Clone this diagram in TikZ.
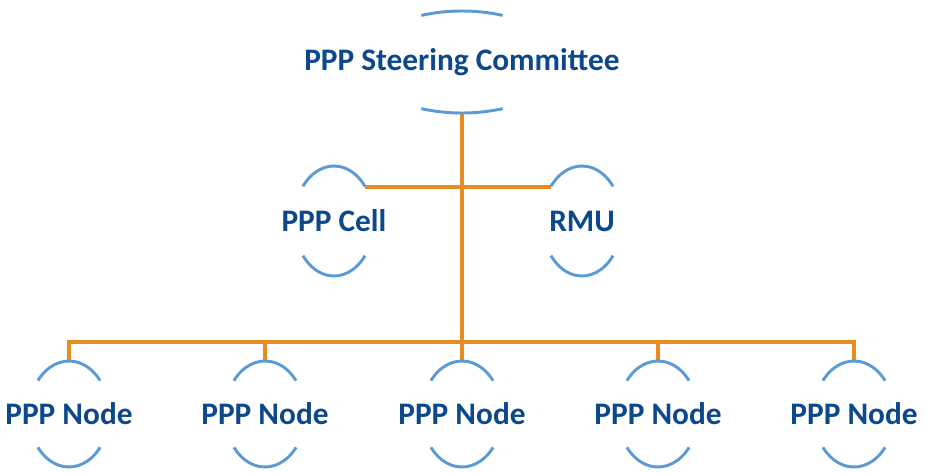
\documentclass[tikz,border=0pt]{standalone}
\usepackage{fontspec}
\setmainfont{Carlito}
\usepackage{xcolor}
\usepackage{tikz}
\usetikzlibrary{calc}
\definecolor{cText}{RGB}{14,72,140}
\definecolor{cArc}{RGB}{91,155,213}
\definecolor{cLink}{RGB}{232,140,34}
\tikzstyle{tsLabel} = [
    text=cText,
    font=\bfseries\fontsize{23.5}{28}\selectfont,
    inner sep=0pt
]
\tikzstyle{tsUnit} = [
    tsLabel,
    minimum width=60pt,
    minimum height=79.5pt
]
\tikzstyle{tsArc} = [
    draw=cArc,
    line width=2.2pt
]
\tikzstyle{tsLink} = [
    draw=cLink,
    line width=2.6pt
]
% node, half angle, x radius, y radius
\newcommand{\capArcs}[4]{%
    \draw[tsArc] ($(#1.center)+(180+#2:#3 and #4)$) arc[start angle=180+#2, end angle=360-#2, x radius=#3, y radius=#4];
    \draw[tsArc] ($(#1.center)+(#2:#3 and #4)$) arc[start angle=#2, end angle=180-#2, x radius=#3, y radius=#4];
}
\begin{document}
\begin{tikzpicture}[x=0.75pt, y=-0.75pt]
        \useasboundingbox (0,0) rectangle (929,472);

        \node[tsLabel, minimum height=76.5pt] (top) at (462,62) {PPP Steering Committee};
        \node[tsUnit, minimum height=82.5pt] (cell) at (334,221) {PPP Cell};
        \node[tsUnit, minimum height=82.5pt] (rmu) at (582,221) {RMU};
        \foreach \i/\x in {1/69, 2/265, 3/462, 4/658, 5/854}
            \node[tsUnit] (n\i) at (\x,414) {PPP Node};

        % orange links
        \coordinate (bus) at (462,342);
        \coordinate (cellR) at ($(cell.center)+(31,-34)$);
        \coordinate (rmuL) at ($(rmu.center)+(-31,-34)$);
        \draw[tsLink] (top.south) -- (n3.north);
        \draw[tsLink] (cellR) -- (rmuL);
        \draw[tsLink] (n1.north) -- (n1.north |- bus) -- (n5.north |- bus) -- (n5.north);
        \foreach \i in {2,3,4}
            \draw[tsLink] (n\i.north) -- (n\i.north |- bus);

        % arcs
        \capArcs{top}{66}{100}{51}
        \capArcs{cell}{39}{40}{55}
        \capArcs{rmu}{39}{40}{55}
        \foreach \i in {1,...,5}{
            \capArcs{n\i}{39}{40}{53}
        }

\end{tikzpicture}
\end{document}
